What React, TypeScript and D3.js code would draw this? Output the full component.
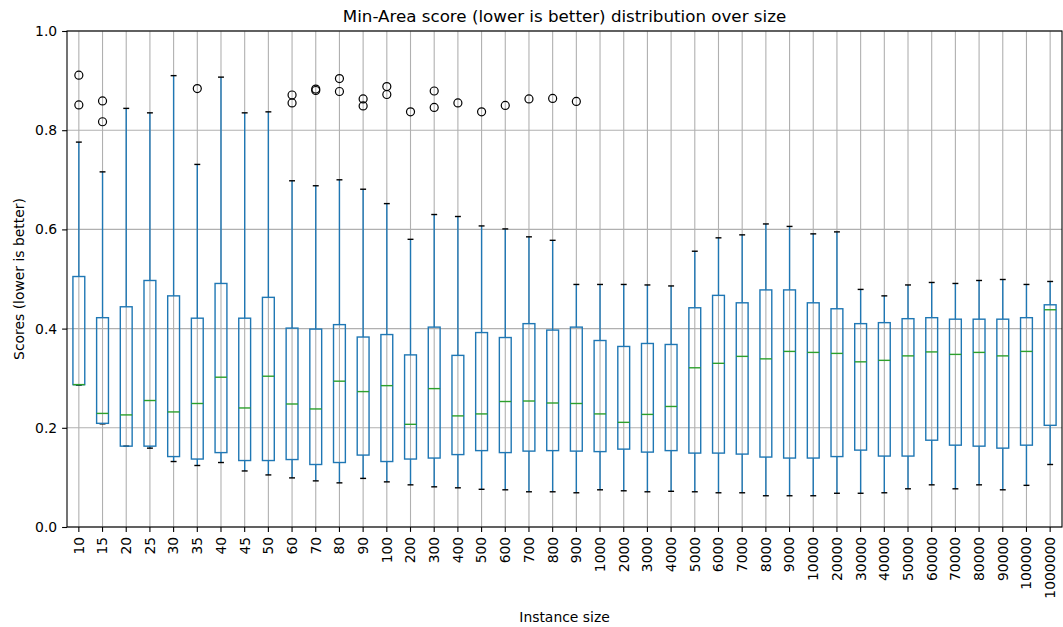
import React, { useRef, useEffect } from "react";
import * as d3 from "d3";

const categories = [
  "10", "15", "20", "25", "30", "35", "40", "45", "50", "60", "70", "80", "90", "100",
  "200", "300", "400", "500", "600", "700", "800", "900", "1000", "2000", "3000", "4000",
  "5000", "6000", "7000", "8000", "9000", "10000", "20000", "30000", "40000", "50000",
  "60000", "70000", "80000", "90000", "100000", "1000000",
];

const whiskerLow = [
  0.286, 0.208, 0.163, 0.159, 0.132, 0.124, 0.130, 0.113, 0.105, 0.099, 0.093, 0.089, 0.098, 0.091,
  0.085, 0.081, 0.079, 0.076, 0.075, 0.071, 0.071, 0.069, 0.075, 0.073, 0.071, 0.072,
  0.071, 0.069, 0.069, 0.063, 0.063, 0.063, 0.068, 0.068, 0.069, 0.077,
  0.085, 0.077, 0.085, 0.075, 0.084, 0.126,
];

const q1 = [
  0.287, 0.209, 0.163, 0.163, 0.142, 0.137, 0.150, 0.134, 0.134, 0.136, 0.126, 0.130, 0.145, 0.132,
  0.137, 0.139, 0.146, 0.154, 0.150, 0.153, 0.154, 0.153, 0.152, 0.157, 0.151, 0.154,
  0.149, 0.149, 0.147, 0.141, 0.139, 0.139, 0.142, 0.155, 0.143, 0.143,
  0.175, 0.165, 0.163, 0.159, 0.165, 0.205,
];

const medians = [
  0.287, 0.229, 0.226, 0.255, 0.232, 0.249, 0.302, 0.240, 0.304, 0.248, 0.238, 0.294, 0.273, 0.285,
  0.207, 0.279, 0.224, 0.228, 0.253, 0.254, 0.250, 0.249, 0.228, 0.211, 0.227, 0.243,
  0.321, 0.330, 0.344, 0.339, 0.354, 0.352, 0.350, 0.333, 0.336, 0.345,
  0.353, 0.348, 0.352, 0.345, 0.354, 0.438,
];

const q3 = [
  0.505, 0.422, 0.444, 0.497, 0.466, 0.421, 0.491, 0.421, 0.463, 0.401, 0.399, 0.408, 0.383, 0.388,
  0.347, 0.403, 0.346, 0.392, 0.382, 0.410, 0.397, 0.403, 0.376, 0.364, 0.370, 0.368,
  0.442, 0.467, 0.452, 0.478, 0.478, 0.452, 0.440, 0.410, 0.412, 0.420,
  0.422, 0.419, 0.419, 0.419, 0.422, 0.448,
];

const whiskerHigh = [
  0.776, 0.716, 0.844, 0.835, 0.910, 0.731, 0.907, 0.835, 0.837, 0.698, 0.688, 0.700, 0.681, 0.652,
  0.580, 0.630, 0.626, 0.607, 0.601, 0.585, 0.578, 0.489, 0.489, 0.489, 0.488, 0.486,
  0.556, 0.583, 0.589, 0.611, 0.606, 0.591, 0.595, 0.479, 0.466, 0.488,
  0.493, 0.491, 0.497, 0.499, 0.489, 0.495,
];

const outliers: number[][] = [
  [0.911, 0.851], [0.859, 0.817], [], [], [], [0.884], [], [], [], [0.871, 0.855], [0.883, 0.880],
  [0.904, 0.878], [0.863, 0.849], [0.888, 0.872], [0.837], [0.879, 0.846], [0.855], [0.837],
  [0.850], [0.863], [0.864], [0.858], [], [], [], [], [], [], [], [], [], [], [], [], [], [],
  [], [], [], [], [], [],
];

const yTicks = [0, 0.2, 0.4, 0.6, 0.8, 1.0];

const W = 1063;
const H = 627;
const margin = { top: 31, right: 1, bottom: 100, left: 67 };
const FONT = "'DejaVu Sans', sans-serif";

export default function App() {
  const ref = useRef<SVGSVGElement | null>(null);

  useEffect(() => {
    document.body.style.margin = "0";
    const svg = d3.select(ref.current);
    svg.selectAll("*").remove();

    const left = margin.left;
    const right = W - margin.right;
    const top = margin.top;
    const bottom = H - margin.bottom;

    const x = d3.scaleBand<string>().domain(categories).range([left, right]).padding(0);
    const y = d3.scaleLinear().domain([0, 1]).range([bottom, top]);
    const bw = x.bandwidth();
    const cx = (c: string) => (x(c) as number) + bw / 2;

    svg.append("rect").attr("width", W).attr("height", H).attr("fill", "#fff");

    // grid
    const grid = svg.append("g").attr("stroke", "#b0b0b0").attr("stroke-width", 1.1);
    categories.forEach((c) => {
      grid.append("line").attr("x1", cx(c)).attr("x2", cx(c)).attr("y1", top).attr("y2", bottom);
    });
    yTicks.forEach((t) => {
      grid.append("line").attr("x1", left).attr("x2", right).attr("y1", y(t)).attr("y2", y(t));
    });

    // boxes
    const boxW = bw * 0.5;
    const capW = bw * 0.25;
    const blue = "#1f77b4";
    const g = svg.append("g");
    categories.forEach((c, i) => {
      const xc = cx(c);
      g.append("line").attr("x1", xc).attr("x2", xc).attr("y1", y(q3[i])).attr("y2", y(whiskerHigh[i]))
        .attr("stroke", blue).attr("stroke-width", 1.4);
      g.append("line").attr("x1", xc).attr("x2", xc).attr("y1", y(q1[i])).attr("y2", y(whiskerLow[i]))
        .attr("stroke", blue).attr("stroke-width", 1.4);
      [whiskerHigh[i], whiskerLow[i]].forEach((v) => {
        g.append("line").attr("x1", xc - capW / 2).attr("x2", xc + capW / 2).attr("y1", y(v)).attr("y2", y(v))
          .attr("stroke", "#000").attr("stroke-width", 1.4);
      });
      g.append("rect").attr("x", xc - boxW / 2).attr("width", boxW)
        .attr("y", y(q3[i])).attr("height", y(q1[i]) - y(q3[i]))
        .attr("fill", "none").attr("stroke", blue).attr("stroke-width", 1.4);
      g.append("line").attr("x1", xc - boxW / 2).attr("x2", xc + boxW / 2)
        .attr("y1", y(medians[i])).attr("y2", y(medians[i]))
        .attr("stroke", "#2ca02c").attr("stroke-width", 1.4);
      outliers[i].forEach((v) => {
        g.append("circle").attr("cx", xc).attr("cy", y(v)).attr("r", 4)
          .attr("fill", "none").attr("stroke", "#000").attr("stroke-width", 1.2);
      });
    });

    // spines
    svg.append("rect").attr("x", left).attr("y", top).attr("width", right - left).attr("height", bottom - top)
      .attr("fill", "none").attr("stroke", "#000").attr("stroke-width", 1.1);

    // y axis
    const ya = svg.append("g").attr("transform", `translate(${left},0)`)
      .call(d3.axisLeft(y).tickValues(yTicks).tickFormat(d3.format(".1f")).tickSize(4.9).tickPadding(4.9) as any);
    ya.select(".domain").remove();
    ya.selectAll("line").attr("stroke", "#000").attr("stroke-width", 1.1);
    ya.selectAll("text").attr("font-family", FONT).attr("font-size", 13.9).attr("fill", "#000");

    // x axis
    const xa = svg.append("g").attr("transform", `translate(0,${bottom})`)
      .call(d3.axisBottom(x).tickSize(4.9).tickPadding(4.9) as any);
    xa.select(".domain").remove();
    xa.selectAll("line").attr("stroke", "#000").attr("stroke-width", 1.1);
    xa.selectAll("text")
      .attr("font-family", FONT).attr("font-size", 13.9).attr("fill", "#000")
      .attr("text-anchor", "end").attr("dy", "0.35em")
      .attr("transform", "translate(0,9.8) rotate(-90)")
      .attr("y", 0).attr("x", 0);

    // labels
    svg.append("text").attr("x", (left + right) / 2).attr("y", 22).attr("text-anchor", "middle")
      .attr("font-family", FONT).attr("font-size", 16.7).text("Min-Area score (lower is better) distribution over size");
    svg.append("text").attr("x", (left + right) / 2).attr("y", 622).attr("text-anchor", "middle")
      .attr("font-family", FONT).attr("font-size", 13.9).text("Instance size");
    svg.append("text").attr("transform", `translate(24,${(top + bottom) / 2}) rotate(-90)`).attr("text-anchor", "middle")
      .attr("font-family", FONT).attr("font-size", 13.9).text("Scores (lower is better)");
  }, []);

  return <svg ref={ref} width={W} height={H} style={{ display: "block" }} />;
}
